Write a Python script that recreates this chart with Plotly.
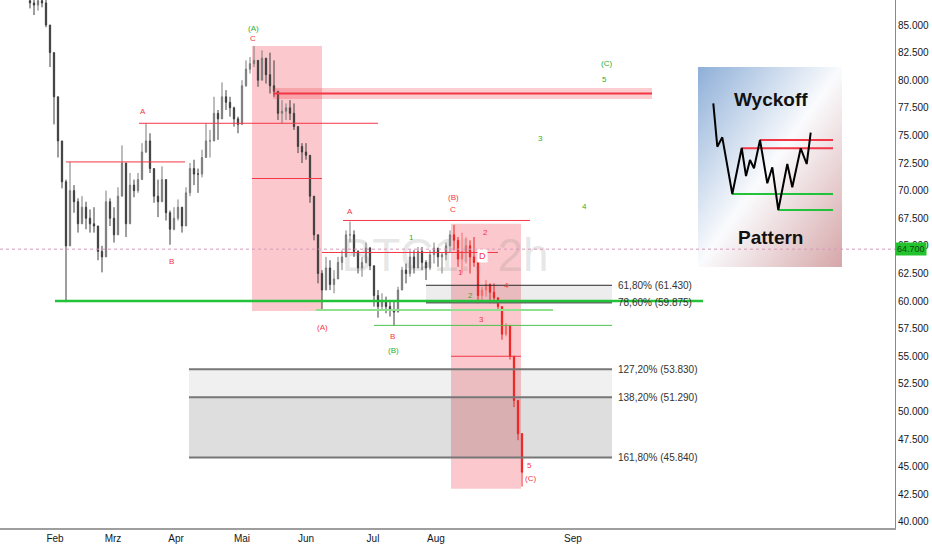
import base64
import plotly.graph_objects as go

# price bars (thousands), sampled from the 2h chart
highs = [87.8, 87.6, 87.5, 87.7, 87.3, 84.8, 80.0, 78.5, 74.0, 71.0,
         72.6, 70.5, 69.3, 69.5, 69.0, 68.3, 68.5, 66.8, 65.0, 70.0,
         69.3, 68.5, 70.3, 74.1, 70.0, 71.6, 71.0, 71.6, 74.3, 76.1,
         75.2, 71.6, 71.0, 72.2, 69.4, 68.2, 68.5, 69.2, 68.0, 70.3,
         72.5, 72.8, 72.0, 73.7, 76.1, 75.5, 78.5, 77.3, 79.8, 79.1,
         78.5, 77.6, 76.7, 80.0, 81.8, 82.1, 83.1, 81.8, 82.7, 81.8,
         82.5, 81.8, 78.8, 78.2, 77.9, 78.2, 77.9, 75.8, 74.3, 74.3,
         72.5, 68.9, 65.3, 62.8, 64.0, 63.7, 62.8, 64.0, 64.6, 66.4,
         67.2, 66.4, 64.6, 64.0, 65.3, 64.9, 62.8, 61.0, 60.7, 60.4,
         60.1, 60.1, 61.3, 63.1, 63.4, 64.6, 64.6, 64.9, 64.9, 63.7,
         64.6, 65.3, 64.6, 64.4, 65.3, 66.4, 66.9, 65.8, 66.2, 65.8,
         65.5, 65.8, 61.6, 61.3, 61.9, 61.6, 61.6, 60.1, 58.0, 58.0,
         56.5, 52.2, 50.4, 46.8]
lows = [86.5, 85.9, 86.3, 86.6, 84.8, 81.2, 76.0, 73.0, 70.2, 59.9,
        66.5, 68.0, 66.2, 67.3, 66.5, 66.2, 66.2, 63.7, 62.6, 65.5,
        66.8, 65.3, 66.8, 71.6, 65.8, 69.2, 69.4, 69.8, 71.6, 73.4,
        71.6, 68.9, 67.6, 69.8, 67.3, 65.1, 66.4, 67.3, 66.2, 68.0,
        69.5, 70.5, 69.8, 71.2, 73.7, 73.0, 75.5, 74.6, 77.6, 77.3,
        76.7, 75.8, 75.2, 77.3, 79.4, 80.6, 81.2, 79.4, 80.6, 79.7,
        78.8, 78.5, 76.4, 76.1, 76.4, 76.4, 75.5, 73.4, 72.5, 72.8,
        68.9, 65.5, 61.6, 59.2, 61.6, 61.0, 60.7, 62.2, 62.8, 64.0,
        65.3, 64.0, 62.5, 62.2, 63.4, 62.8, 59.5, 58.5, 59.2, 58.9,
        58.6, 57.8, 59.8, 61.0, 61.6, 62.2, 62.5, 63.1, 62.8, 61.9,
        62.8, 63.4, 63.1, 62.5, 63.7, 64.4, 64.6, 63.1, 62.5, 63.4,
        62.5, 63.1, 59.8, 60.1, 60.4, 59.8, 59.8, 59.2, 56.5, 56.8,
        54.7, 50.4, 47.4, 43.2]
closes = [87.0, 86.8, 87.2, 87.0, 85.0, 82.5, 78.5, 74.5, 70.8, 65.0,
          70.0, 69.0, 67.0, 68.5, 67.5, 67.0, 66.8, 64.5, 64.0, 69.0,
          67.5, 66.0, 69.5, 72.5, 67.0, 70.5, 70.0, 71.0, 73.5, 74.5,
          72.0, 69.5, 69.0, 71.0, 68.0, 66.5, 67.5, 68.5, 66.8, 69.8,
          72.0, 71.5, 71.5, 73.0, 74.5, 74.5, 77.0, 76.5, 78.5, 78.0,
          77.5, 76.5, 76.0, 79.5, 81.0, 81.5, 81.8, 80.0, 82.0, 80.5,
          79.5, 79.0, 77.0, 77.2, 77.5, 77.0, 75.8, 74.0, 73.5, 73.2,
          69.5, 66.0, 62.5, 61.0, 63.0, 61.5, 62.0, 63.5, 64.0, 66.0,
          66.0, 64.5, 63.0, 63.5, 64.8, 63.2, 60.5, 59.5, 60.0, 59.5,
          59.2, 59.0, 61.0, 62.8, 62.5, 64.0, 63.0, 64.5, 63.5, 63.0,
          64.2, 64.8, 64.0, 64.2, 65.0, 66.0, 65.5, 63.8, 64.5, 65.0,
          64.0, 63.5, 60.5, 61.0, 61.5, 60.8, 60.3, 59.5, 57.0, 57.8,
          55.0, 51.0, 48.0, 44.5]
first_open = 87.2
red_from = 106          # bars pattern drawn in red from the (B) top

month_labels = ["Feb", "Mrz", "Apr", "Mai", "Jun", "Jul", "Aug", "Sep"]
month_pos = [6.25, 20.75, 36.5, 53, 69, 85.75, 101.5, 135.75]
price_ticks = [40 + 2.5 * k for k in range(19)]
last_price = 64.7

fib_upper = [("61,80% (61.430)", 61.43), ("78,60% (59.875)", 59.875)]
fib_lower = [("127,20% (53.830)", 53.83), ("138,20% (51.290)", 51.29),
             ("161,80% (45.840)", 45.84)]

# wave labels: (text, bar, price)
red_labels = [("A", 28.25, 77.2), ("B", 35.25, 63.6), ("C", 55.75, 83.8),
              ("(A)", 73, 57.6), ("A", 80, 68.1), ("B", 90.5, 56.8),
              ("(B)", 105.75, 69.4), ("C", 105.75, 68.25), ("2", 113.75, 66.2),
              ("1", 107.5, 62.6), ("4", 119, 61.4), ("3", 112.75, 58.3),
              ("5", 124.75, 45.1), ("(C)", 125, 43.9)]
green_labels = [("(A)", 55.75, 84.65), ("(B)", 90.75, 55.5), ("1", 95.25, 65.8),
                ("2", 110, 60.5), ("(C)", 144, 81.5), ("5", 143.5, 80.1),
                ("3", 127.5, 74.7), ("4", 138.5, 68.6)]

# wyckoff sketch (inset units)
wy_x = [15.3, 19.3, 24.3, 34.3, 43.7, 48, 52, 56, 62, 69.3, 74.3, 80.3, 89.3,
        94.3, 102.7, 108.7, 112.7]
wy_y = [163.7, 120.3, 129.7, 73, 119, 91, 107, 98.7, 127, 83.7, 99.7, 57, 103,
        79.7, 118.7, 103, 134.3]
wy_resist = [(62, 127), (43.7, 118.7)]
wy_support = [(34.3, 73), (80.3, 57)]

n = len(closes)
bars = list(range(n))
opens = [first_open] + closes[:-1]
hi = [max(h, o, c) for h, o, c in zip(highs, opens, closes)]
lo = [min(l, o, c) for l, o, c in zip(lows, opens, closes)]

RED = "#f23645"
GREEN = "#22c33a"
FONT = "Liberation Sans Narrow, Liberation Sans, Arial, sans-serif"

fig = go.Figure()

# watermark behind candles
fig.add_trace(go.Scatter(x=[103.75], y=[63.8], mode="text", text=["BTC1!, 2h"],
                         textfont=dict(size=46, color="rgba(130,130,130,0.2)",
                                       family="Liberation Sans Narrow, Liberation Sans, Arial"),
                         hoverinfo="skip"))

fig.add_trace(go.Candlestick(
    x=bars[:red_from], open=opens[:red_from], high=hi[:red_from],
    low=lo[:red_from], close=closes[:red_from],
    increasing=dict(line=dict(color="#7a7a7a", width=1), fillcolor="#8a8a8a"),
    decreasing=dict(line=dict(color="#3d3d3d", width=1), fillcolor="#3d3d3d")))
fig.add_trace(go.Candlestick(
    x=bars[red_from:], open=opens[red_from:], high=hi[red_from:],
    low=lo[red_from:], close=closes[red_from:],
    increasing=dict(line=dict(color="#f76a6a", width=1), fillcolor="#f76a6a"),
    decreasing=dict(line=dict(color="#ee2020", width=1), fillcolor="#ee2020")))

# pink boxes
for x0, x1, y0, y1 in [(55.5, 73, 59.1, 83.1), (105.25, 122.75, 43.0, 67.0)]:
    fig.add_shape(type="rect", x0=x0, x1=x1, y0=y0, y1=y1, layer="below",
                  line_width=0, fillcolor="rgba(242,54,69,0.27)")

# fib zones
fig.add_shape(type="rect", x0=99, x1=145.5, y0=59.875, y1=61.43, layer="below",
              line_width=0, fillcolor="rgba(0,0,0,0.07)")
fig.add_shape(type="rect", x0=39.75, x1=145.5, y0=51.29, y1=53.83, layer="below",
              line_width=0, fillcolor="rgba(0,0,0,0.06)")
fig.add_shape(type="rect", x0=39.75, x1=145.5, y0=45.84, y1=51.29, layer="below",
              line_width=0, fillcolor="rgba(0,0,0,0.13)")
for i, (txt, lvl) in enumerate(fib_upper):
    fig.add_shape(type="line", x0=99, x1=145.5, y0=lvl, y1=lvl,
                  line=dict(color="#2a2a2a" if i == 0 else "#666", width=1 if i == 0 else 2))
for txt, lvl in fib_lower:
    fig.add_shape(type="line", x0=39.75, x1=145.5, y0=lvl, y1=lvl,
                  line=dict(color="#777", width=2))
for txt, lvl in fib_upper + fib_lower:
    fig.add_annotation(x=146.5, y=lvl, text=txt, showarrow=False, xanchor="left",
                       font=dict(size=10, color="#333", family=FONT))

# red resistance band
fig.add_shape(type="rect", x0=60.75, x1=155.5, y0=78.3, y1=79.3, line_width=0,
              fillcolor="rgba(242,54,69,0.25)")
# red lines
for x0, x1, lvl, w in [(9, 38.75, 72.6, 1), (27.25, 87, 76.1, 1), (55.5, 73, 71.1, 1),
                       (60.75, 155.5, 78.8, 2), (78.25, 125, 67.3, 1),
                       (73, 117, 64.4, 1), (105.25, 122.75, 55.0, 1)]:
    fig.add_shape(type="line", x0=x0, x1=x1, y0=lvl, y1=lvl,
                  line=dict(color=RED, width=w))
# green lines
for x0, x1, lvl, col, w in [(6.25, 168.25, 60.0, GREEN, 2.5),
                            (71.5, 130.75, 59.2, "#8fe08f", 2),
                            (86, 145.5, 57.8, "#4cc24c", 1)]:
    fig.add_shape(type="line", x0=x0, x1=x1, y0=lvl, y1=lvl,
                  line=dict(color=col, width=w))

# last price line + label
fig.add_shape(type="line", xref="paper", x0=0, x1=1, y0=last_price, y1=last_price,
              line=dict(color="#d59ab8", width=1, dash="dot"))
fig.add_annotation(xref="paper", x=1.0, y=last_price, text="64.700", showarrow=False,
                   xanchor="left", bgcolor="#22c32c", font=dict(size=9, color="#0d4a10"),
                   borderpad=1)

for txt, b, p in red_labels:
    fig.add_annotation(x=b, y=p, text=txt, showarrow=False,
                       font=dict(size=8, color=RED, family=FONT))
for txt, b, p in green_labels:
    fig.add_annotation(x=b, y=p, text=txt, showarrow=False,
                       font=dict(size=8, color="#1fae34", family=FONT))
fig.add_annotation(x=113, y=64.1, text="D", showarrow=False, bgcolor="white",
                   font=dict(size=9, color=RED, family=FONT))

# wyckoff inset
svg = ('<svg xmlns="http://www.w3.org/2000/svg" width="144" height="200" '
       'viewBox="0 0 144 200" preserveAspectRatio="none"><defs>'
       '<linearGradient id="g" x1="0" y1="0" x2="1" y2="1">'
       '<stop offset="0" stop-color="#8eafd8"/><stop offset="0.5" stop-color="#fafbfd"/>'
       '<stop offset="1" stop-color="#d6a6a8"/></linearGradient></defs>'
       '<rect width="144" height="200" fill="url(#g)"/></svg>')
src = "data:image/svg+xml;base64," + base64.b64encode(svg.encode()).decode()
fig.add_layout_image(source=src, xref="paper", yref="paper", x=698 / 895, y=1 - 67 / 528,
                     sizex=144 / 895, sizey=200 / 528, sizing="stretch",
                     xanchor="left", yanchor="top", layer="below")
for x0, lvl in wy_resist:
    fig.add_trace(go.Scatter(x=[x0, 135], y=[lvl, lvl], mode="lines", xaxis="x2",
                             yaxis="y2", line=dict(color=RED, width=2), hoverinfo="skip"))
for x0, lvl in wy_support:
    fig.add_trace(go.Scatter(x=[x0, 135], y=[lvl, lvl], mode="lines", xaxis="x2",
                             yaxis="y2", line=dict(color=GREEN, width=2), hoverinfo="skip"))
fig.add_trace(go.Scatter(x=wy_x, y=wy_y, mode="lines", xaxis="x2", yaxis="y2",
                         line=dict(color="black", width=2), hoverinfo="skip"))
fig.add_annotation(xref="x2", yref="y2", x=73, y=168, text="<b>Wyckoff</b>",
                   showarrow=False, font=dict(size=19, color="#111", family="Liberation Sans, Arial"))
fig.add_annotation(xref="x2", yref="y2", x=72, y=30, text="<b>Pattern</b>",
                   showarrow=False, font=dict(size=19, color="#111", family="Liberation Sans, Arial"))

fig.update_layout(
    width=932, height=550, margin=dict(l=0, r=37, t=0, b=22),
    paper_bgcolor="white", plot_bgcolor="rgba(0,0,0,0)", showlegend=False,
    font=dict(family=FONT, color="#131722"),
    boxgap=0.55,
    xaxis=dict(range=[-7.5, 216.25], tickvals=month_pos, ticktext=month_labels,
               showgrid=False, zeroline=False, showline=True, linecolor="#9e9e9e",
               linewidth=2, ticks="", tickfont=dict(size=10),
               rangeslider=dict(visible=False)),
    yaxis=dict(range=[39.45, 87.264], side="right", tickvals=price_ticks,
               ticktext=[f"{v:.3f}" for v in price_ticks],
               showgrid=False, zeroline=False, showline=True, linecolor="#8a8a8a",
               linewidth=1, ticks="", tickfont=dict(size=10)),
    xaxis2=dict(domain=[698 / 895, 842 / 895], anchor="y2", range=[0, 144], visible=False),
    yaxis2=dict(domain=[1 - 267 / 528, 1 - 67 / 528], anchor="x2", range=[0, 200],
                visible=False),
)

fig.write_html("out.html", config={"displayModeBar": False},
               post_script="document.body.style.margin = '0px';")
